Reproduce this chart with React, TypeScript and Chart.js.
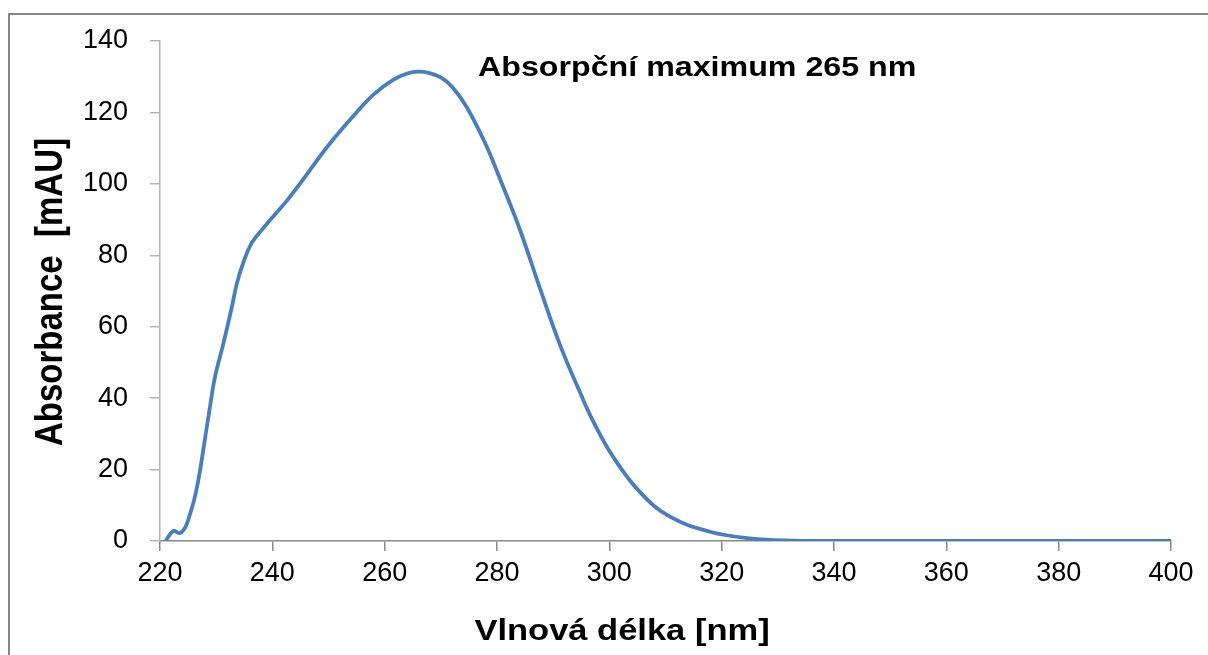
import React, { useEffect, useRef } from "react";
import { Chart, registerables } from "chart.js";

Chart.register(...registerables);

const wavelength = [221, 222, 222.6, 223.5, 224.5, 225.3, 226.2, 227, 227.7, 228.9, 229.8, 231.3, 232.8, 233.7, 234.8, 236.3, 238.4, 240.5, 242.6, 245, 250, 255, 258, 261.5, 264, 266, 268, 270, 272, 274.6, 278, 280.5, 284, 287.7, 291.2, 295, 297.2, 300.7, 305.5, 310.8, 317.9, 325, 333, 340, 360, 380, 400];
const absorbance = [0, 2.3, 2.8, 2.2, 3.8, 7.3, 12.3, 18.5, 25.5, 37.6, 46, 55.4, 65.6, 72.2, 77.8, 83.4, 87.6, 91.5, 95.3, 100.2, 110.8, 120, 125, 129.1, 130.9, 131.4, 131, 129.8, 127.2, 121.5, 111, 101.5, 87.5, 70.5, 55, 40.8, 33.3, 23.5, 13.6, 6.8, 2.6, 0.75, 0.1, 0, 0, 0, 0];

const xTitle = "Vlnová délka [nm]";
const yTitle = "Absorbance  [mAU]";
const note = "Absorpční maximum 265 nm";

const FONT = "'Liberation Sans', Arial, sans-serif";

const textPlugin = {
  id: "textPlugin",
  afterDraw(chart: any) {
    const ctx = chart.ctx;
    const ca = chart.chartArea;
    ctx.save();
    ctx.fillStyle = "#000";
    ctx.textBaseline = "middle";
    ctx.textAlign = "center";

    ctx.save();
    ctx.translate(622, 632);
    ctx.scale(1.15, 1);
    ctx.font = `bold 30px ${FONT}`;
    ctx.fillText(xTitle, 0, 0);
    ctx.restore();

    ctx.save();
    ctx.translate(52, (ca.top + ca.bottom) / 2 + 1);
    ctx.scale(1.15, 1);
    ctx.rotate(-Math.PI / 2);
    ctx.font = `bold 33px ${FONT}`;
    ctx.fillText(yTitle, 0, 0);
    ctx.restore();

    ctx.save();
    ctx.translate(478, 68);
    ctx.scale(1.15, 1);
    ctx.textAlign = "left";
    ctx.font = `bold 28px ${FONT}`;
    ctx.fillText(note, 0, 0);
    ctx.restore();

    ctx.restore();
  },
};

export default function App() {
  const ref = useRef<HTMLCanvasElement | null>(null);
  useEffect(() => {
    if (!ref.current) return;
    const data = wavelength.map((w, i) => ({ x: w, y: absorbance[i] }));
    const chart = new Chart(ref.current, {
      type: "line",
      data: {
        datasets: [
          {
            data,
            borderColor: "#4a7ebb",
            borderWidth: 3.8,
            pointRadius: 0,
            fill: false,
            tension: 0.4,
          },
        ],
      },
      options: {
        animation: false,
        responsive: false,
        devicePixelRatio: 1,
        layout: { padding: { top: 41, right: 37, left: 0, bottom: 0 } },
        plugins: { legend: { display: false }, tooltip: { enabled: false } },
        scales: {
          x: {
            type: "linear",
            min: 220,
            max: 400,
            ticks: { stepSize: 20, color: "#000", font: { family: FONT, size: 27 }, padding: 6, maxRotation: 0 },
            grid: { drawOnChartArea: false, drawTicks: true, tickLength: 10, color: "#888", lineWidth: 1.5 },
            border: { color: "#888", width: 1.5 },
            afterFit: (s: any) => { s.height = 114; },
          },
          y: {
            min: 0,
            max: 140,
            ticks: { stepSize: 20, color: "#000", font: { family: FONT, size: 27 }, padding: 22 },
            grid: { drawOnChartArea: false, drawTicks: true, tickLength: 10, color: "#b4b4b4", lineWidth: 1.5 },
            border: { color: "#b4b4b4", width: 1.5 },
            afterFit: (s: any) => { s.width = 160; },
          },
        },
      },
      plugins: [textPlugin],
    } as any);
    return () => chart.destroy();
  }, []);
  return (
    <div style={{ position: "fixed", left: 0, top: 0, width: 1208, height: 655, overflow: "hidden", background: "#fff" }}>
      <div style={{ position: "absolute", left: 8, top: 13, width: 1260, height: 700, borderLeft: "2px solid #868686", borderTop: "2px solid #868686" }} />
      <canvas ref={ref} width={1208} height={655} style={{ position: "absolute", left: 0, top: 0, width: 1208, height: 655 }} />
    </div>
  );
}
